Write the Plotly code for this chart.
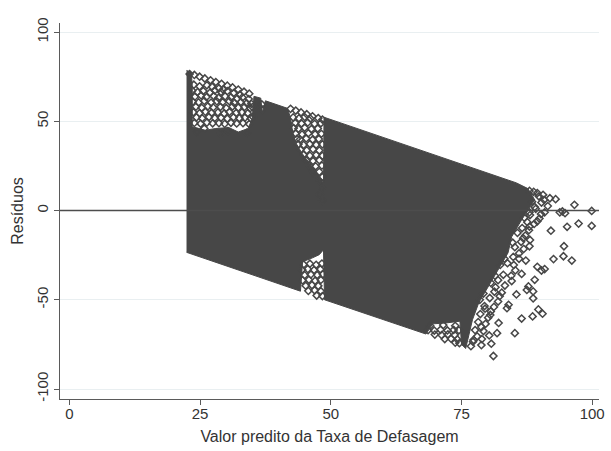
import plotly.graph_objects as go

# ---- data ----
# outline of the area where the diamonds are so dense they merge into solid grey
dense_x = [22.4, 23.3, 23.5, 23.5, 26.0, 28.0, 30.5, 32.3, 34.2, 35.0, 35.3, 36.6, 36.9, 37.5,
           41.7, 42.3, 42.7, 43.3, 44.5, 46.0, 47.5, 48.6, 48.7, 60.0, 70.0, 80.0, 85.5, 87.7,
           89.0, 86.5, 84.6, 83.9, 82.0, 80.1, 78.3, 77.1, 76.4, 75.8, 75.0, 74.7, 72.0,
           69.5, 68.2, 58.8, 48.8, 48.6, 47.8, 46.5, 44.6, 44.2, 22.4]
dense_y = [78.5, 77.5, 70.0, 47.0, 45.0, 46.0, 46.5, 44.0, 46.0, 52.0, 64.0, 63.0, 55.0, 61.5,
           57.3, 52.0, 44.0, 38.0, 32.0, 26.5, 20.5, 15.0, 52.3, 41.0, 31.0, 21.0, 15.5, 12.3,
           6.0, -5.2, -14.7, -23.7, -33.2, -42.7, -51.7, -61.2, -70.7, -77.3, -75.0, -62.0, -63.0,
           -63.5, -69.2, -59.8, -50.0, -22.0, -24.7, -26.5, -28.7, -45.2, -23.4]

# individual diamonds visible outside the solid area
# block 1, upper left
p1_x = [23.0, 23.9, 24.9, 25.9, 27.0, 28.0, 29.1, 30.2, 31.2, 32.3, 33.4, 34.4,
        23.8, 24.9, 26.3, 27.3, 28.6, 29.4,
        23.5, 24.5, 25.6, 26.9, 27.8, 29.0, 30.2, 31.4, 32.6,
        24.0, 25.2, 26.2, 27.6, 28.5, 29.8, 30.9, 32.1, 33.1, 34.3,
        23.6, 24.7, 25.8, 27.1, 28.2, 29.3, 30.6, 31.5, 32.8, 33.9, 34.8,
        24.2, 25.3, 26.5, 27.5, 28.9, 30.0, 31.2, 32.3, 33.5, 34.6,
        23.7, 24.9, 26.0, 27.2, 28.4, 29.6, 30.6, 31.9, 33.0, 34.1,
        24.3, 25.4, 26.7, 27.8, 29.0, 30.2, 31.4, 32.5, 33.6, 34.7,
        23.9, 25.1, 26.3, 27.4, 28.6, 29.7, 30.9, 32.0, 33.2, 34.4, 35.0, 35.1,
        36.8, 36.9, 25.8, 30.3, 33.9, 24.4, 28.9]
p1_y = [76.5, 76.0, 75.0, 74.0, 73.0, 72.0, 71.0, 70.0, 69.0, 67.8, 66.6, 65.5,
        70.5, 69.6, 70.2, 69.4, 68.5, 67.8,
        67.2, 66.4, 67.0, 66.1, 67.3, 66.5, 66.9, 65.8, 64.9,
        63.8, 64.5, 63.6, 64.2, 63.2, 64.0, 63.5, 62.8, 63.4, 62.5,
        61.0, 60.6, 61.4, 60.5, 61.2, 60.7, 61.3, 60.4, 60.9, 60.2, 59.8,
        58.2, 57.6, 58.4, 57.8, 58.1, 57.5, 58.3, 57.7, 58.0, 57.4,
        55.1, 54.6, 55.3, 54.8, 55.0, 54.4, 55.2, 54.7, 55.0, 54.5,
        52.2, 51.7, 52.4, 51.9, 52.0, 51.5, 52.3, 51.8, 52.1, 51.6,
        49.1, 48.7, 49.3, 48.9, 49.0, 48.6, 49.2, 48.8, 49.0, 48.5, 58.0, 52.5,
        59.5, 56.5, 46.0, 44.5, 43.5, 44.0, 43.0]
# block 1, upper right
p2_x = [42.3, 43.3, 44.3, 45.4, 46.5, 47.6, 48.4,
        42.8, 43.9, 45.0, 46.1,
        43.2, 44.4, 45.6, 46.9, 48.1,
        42.9, 43.8, 45.0, 46.3, 47.5,
        43.3, 44.5, 45.7, 47.0, 48.2,
        43.5, 44.1, 45.3, 46.5, 47.7,
        43.8, 44.8, 46.0, 47.2, 48.4,
        44.2, 45.4, 46.6, 47.8,
        44.8, 46.0, 47.2, 48.4,
        45.3, 46.6, 47.8,
        45.9, 47.1, 48.3,
        46.5, 47.8, 47.2, 48.4, 48.0, 48.3, 47.9, 48.4]
p2_y = [57.0, 56.0, 55.0, 54.0, 52.8, 51.8, 51.0,
        52.2, 51.7, 52.4, 51.5,
        49.1, 48.8, 49.3, 48.6, 48.9,
        46.2, 45.8, 46.4, 45.7, 46.0,
        43.1, 42.7, 43.3, 42.8, 43.0,
        40.2, 39.8, 40.4, 39.7, 40.1,
        37.2, 36.8, 37.3, 36.9, 37.1,
        34.1, 33.8, 34.3, 33.7,
        31.2, 30.8, 31.1, 30.7,
        28.1, 27.8, 28.2,
        25.1, 24.8, 25.2,
        22.0, 21.7, 19.2, 18.8, 16.2, 12.5, 9.0, 5.5]
# block 1, lower right
p3_x = [44.8, 46.0, 47.2, 48.3,
        44.5, 45.6, 46.8, 48.0,
        45.0, 46.2, 47.4, 48.5,
        44.6, 45.8, 47.0, 48.1,
        45.2, 46.4, 47.6,
        45.7, 46.9, 48.1,
        47.3, 48.4]
p3_y = [-30.2, -29.8, -30.4, -29.7,
        -33.1, -32.8, -33.3, -32.9,
        -36.2, -35.8, -36.1, -35.7,
        -39.1, -38.8, -39.3, -38.9,
        -42.1, -41.8, -42.2,
        -45.0, -44.7, -45.2,
        -47.6, -47.9]
# block 2, lower edge
p4_x = [69.0, 71.5, 73.8,
        68.6, 69.8, 71.0, 72.3, 73.5, 74.5,
        69.9, 71.2, 72.4, 73.7,
        71.8, 73.0, 74.2,
        73.8, 74.6]
p4_y = [-64.5, -64.2, -64.6,
        -67.0, -67.3, -66.8, -67.2, -66.9, -67.1,
        -69.5, -69.8, -69.4, -69.7,
        -72.0, -71.8, -72.2,
        -74.0, -74.3]
# right edge band and isolated outliers
p5_x = [88.8, 89.8, 90.3, 89.2, 88.1, 87.6, 86.6, 85.7, 86.4, 85.2, 84.9, 83.8, 83.0, 82.0,
        81.3, 80.4, 79.4, 80.6, 78.6, 78.2, 79.2, 77.6, 77.2, 76.8,
        90.8, 91.5, 90.9, 89.9, 88.9, 87.9, 87.2, 88.1, 86.9, 86.0, 85.3, 84.6, 83.3, 82.7,
        82.0, 81.2, 80.1, 79.6, 80.3, 78.9, 84.8, 83.2, 82.4, 81.4, 80.6, 79.2, 78.5,
        88.0, 89.5, 90.6, 91.9, 93.0, 96.6, 99.9, 94.3, 94.8, 93.8, 88.5, 89.0, 90.2, 88.0,
        99.9, 97.4, 95.2, 92.1, 89.5, 88.0, 87.0,
        94.6, 92.6, 94.5, 96.1, 90.9, 90.3, 89.5, 88.0, 86.8, 86.0, 87.3, 85.0, 84.5, 86.5,
        89.0, 87.8, 87.5, 88.7, 88.7, 84.0, 83.7, 82.3, 81.5, 85.5,
        86.5, 88.6, 90.5, 89.7, 82.1, 78.8, 80.5, 79.5, 78.8, 80.7, 81.1, 81.8, 85.2, 78.0, 77.3]
p5_y = [10.5, 8.0, 4.5, 1.0, -2.5, -6.5, -9.8, -12.5, -17.5, -20.5, -26.0, -29.5, -36.0, -39.0,
        -45.5, -49.0, -53.5, -56.5, -58.0, -62.5, -67.5, -67.0, -73.5, -76.0,
        6.0, 2.5, -1.0, -4.5, -7.5, -11.0, -14.0, -16.5, -21.5, -27.0, -33.5, -39.5, -42.0, -46.0,
        -51.0, -54.0, -60.0, -63.5, -70.0, -72.0, -18.0, -27.0, -30.5, -36.5, -40.5, -46.5, -50.0,
        11.0, 9.8, 8.8, 6.9, 6.4, 3.2, -0.2, -0.5, -1.5, -1.0, 5.0, 2.0, -2.0, -1.0,
        -8.6, -7.3, -9.1, -11.3, -6.0, -9.0, -4.0,
        -20.0, -27.2, -25.6, -28.0, -32.8, -33.6, -31.5, -20.0, -15.5, -24.0, -28.0, -30.5, -36.5, -35.5,
        -38.8, -42.5, -44.5, -49.2, -45.3, -52.8, -54.7, -48.0, -43.0, -47.0,
        -60.5, -59.3, -57.8, -55.4, -63.0, -65.3, -58.5, -55.0, -75.4, -74.6, -81.5, -68.7, -68.7, -70.5, -72.5]

pts_x = p1_x + p2_x + p3_x + p4_x + p5_x
pts_y = p1_y + p2_y + p3_y + p4_y + p5_y

x_ticks = [0, 25, 50, 75, 100]
y_ticks = [-100, -50, 0, 50, 100]
x_title = "Valor predito da Taxa de Defasagem"
y_title = "Resíduos"

MARK = "#474747"
AXIS = "#5a5a5a"
FAM = "Liberation Sans, Arial, sans-serif"
TICKF = dict(family=FAM, size=15, color="#333333")
TITLEF = dict(family=FAM, size=16, color="#333333")

fig = go.Figure()

fig.add_trace(go.Scatter(
    x=dense_x, y=dense_y, mode="lines", fill="toself",
    fillcolor=MARK, line=dict(color=MARK, width=1),
    hoverinfo="skip", showlegend=False))

fig.add_trace(go.Scatter(
    x=pts_x, y=pts_y, mode="markers",
    marker=dict(symbol="diamond-open", size=5.5, color=MARK, line=dict(color=MARK, width=1.5)),
    showlegend=False))

# reference line at zero
fig.add_hline(y=0, line=dict(color="#4d4d4d", width=1.6), layer="above")

fig.update_layout(
    width=611, height=451,
    margin=dict(l=60, r=6, t=23, b=52),
    paper_bgcolor="white", plot_bgcolor="white",
    font=TICKF, showlegend=False,
    xaxis=dict(
        range=[-1.8, 101.3], tickvals=x_ticks, ticktext=[str(v) for v in x_ticks],
        showgrid=False, zeroline=False,
        showline=True, linecolor=AXIS, linewidth=1.2,
        ticks="outside", ticklen=5, tickcolor=AXIS, tickwidth=1.2,
        tickfont=TICKF, ticklabelstandoff=-4,
        title=dict(text=x_title, standoff=9, font=TITLEF),
    ),
    yaxis=dict(
        range=[-105.6, 105.1], tickvals=y_ticks, ticktext=[str(v) for v in y_ticks],
        tickangle=-90, tickfont=TICKF,
        showgrid=True, gridcolor="#e9eff1", gridwidth=1, zeroline=False,
        showline=True, linecolor=AXIS, linewidth=1.2,
        ticks="outside", ticklen=5, tickcolor=AXIS, tickwidth=1.2,
        title=dict(text=y_title, standoff=6, font=TITLEF),
    ),
)

fig.write_html("out.html")
